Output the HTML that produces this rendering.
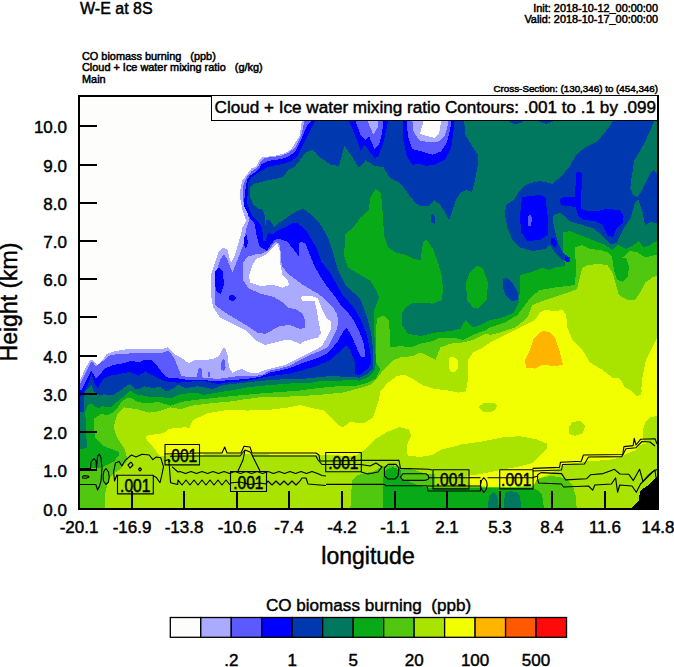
<!DOCTYPE html>
<html><head><meta charset="utf-8"><style>
html,body{margin:0;padding:0;background:#fff;width:674px;height:667px;overflow:hidden}
svg{display:block}
text{font-family:"Liberation Sans",Arial,sans-serif;fill:#000;stroke:#000;stroke-width:0.45px}
.sm{font-size:10.9px;stroke-width:0.5px}
.tk{font-size:17px}
.bl{font-size:17.7px;stroke:#000;stroke-width:0.5}
</style></head><body>
<svg width="674" height="667" viewBox="0 0 674 667">
<defs><clipPath id="pc"><rect x="79" y="96" width="579" height="413"/></clipPath></defs>

<text x="80" y="13.5" style="font-size:16px">W-E at 8S</text>
<text class="sm" x="658" y="11.5" text-anchor="end">Init: 2018-10-12_00:00:00</text>
<text class="sm" x="658" y="22.8" text-anchor="end">Valid: 2018-10-17_00:00:00</text>
<text class="sm" x="82" y="59.5">CO biomass burning&#160;&#160; (ppb)</text>
<text class="sm" x="82" y="71">Cloud + Ice water mixing ratio&#160;&#160; (g/kg)</text>
<text class="sm" x="82" y="82.5">Main</text>
<text class="sm" x="658" y="92" text-anchor="end" style="font-size:9.8px">Cross-Section: (130,346) to (454,346)</text>
<g clip-path="url(#pc)" shape-rendering="crispEdges">
<rect x="78" y="95" width="581" height="415" fill="#fdfdfb"/>
<polygon fill="#aaaaff" points="301.8,90 301.8,121 301,126.9 299.6,135.8 295.9,141.7 291.4,149.2 284,153.6 275.1,155.8 261.7,157.3 258.8,161 255.8,167 251.4,168.4 246.9,174.4 242.5,180.3 240.2,190 240.5,200 242.5,210 246,221 242.5,227.5 240,237.5 235,255 231,262.5 229,256 227.5,250 222.5,247.5 219,251 215,262.5 211,275 211,295 213,307 220,317.5 232.5,324 245,330 255,340 265,345 275,342.5 285,340 291,340 300,344 305,341 310,339.5 318,337.5 321,333 319.5,326 318,318 316,306.5 314.5,301.5 308,300.5 303,301.5 300.5,298 303,295.5 313,296.5 318,298.5 322,309.5 326.5,318.5 331,321.5 330.5,330.5 326.5,338 322,345.5 316,349.5 310,352.5 300,357.5 285,365 275,367.5 265,370 258,373 250,372.5 246,371 242.5,369 237.5,370 232.5,372.5 229,367.5 227.5,355 225,347.5 222.5,349 219,356 213,359 205.5,360 198,359.6 193.7,360.5 188.4,363.1 181.3,357.8 174.1,354.2 170.6,349.8 167.9,347.1 163.5,348.9 149.2,348.9 131.4,348.9 122.5,349.8 113.6,351.6 106.5,354.2 103,359.6 97.6,365 93,360 90.5,359.6 85.1,368.5 79.8,381 70,382 70,515 665,515 665,90"/>
<polygon fill="#5a5aff" points="304,90 304,121 303.3,126.9 301,135.8 295.9,146.2 289.9,152.1 281,155.8 264.7,158 261,161 258.8,165.5 255.8,168.4 251.4,171.4 246.9,177.3 243.9,183.3 242.5,190 243.5,202 247.5,212 249,220 246,230 244,242.5 237.5,260 232.5,272.5 227.5,260 224,254 220,260 216,272.5 215,295 215,305 225,312.5 237.5,320 247.5,326 257.5,332.5 265,334 272.5,330 280,326 290,325 300,329 305,327.5 305,320 302.5,314 297.5,310 287.5,307.5 281.7,301.7 273.5,296.8 260.5,293.5 249,288.7 243.3,280.5 243.3,262.5 247.4,256.8 255.6,254.4 262,253.6 267,251 272,246.2 275,242 279.2,243 280.9,252.7 281.7,265.8 288.2,274 294.8,278.9 301.3,283.8 309.4,288.7 317.6,293.5 324,298.4 332.5,306.5 337,314 338.5,321.5 337,329 332.5,338 328,347 319,351.4 310,355 300,360 290,365.5 280,368.5 270,370.5 262,375 250,376.5 238,376 228,377.5 218,379 203,377.5 198,376.5 188.4,377.4 181.3,375.6 177.7,366.7 174.1,357.8 168.8,350.7 163.5,352.5 149,353.4 131.4,353.4 117.2,354.2 110,355.1 104.7,359.6 99,364 95.8,366.7 92.2,361.4 90.5,363.1 85.1,373.8 80,384 70,385 70,515 665,515 665,90"/>
<polygon fill="#0000ff" points="311.4,90 311.4,121 306.2,126.9 303.3,134.3 300.3,141.7 295.9,150.6 289.9,155.8 282.5,158.8 267.7,161 261.7,164 258.8,169.2 254.3,172.9 249.9,175.9 246.9,180.3 245.4,190 243.7,204.7 248.9,216.5 254.8,224 256.3,234.3 259.3,246.2 266.7,250.7 274.1,240.3 278.6,238.8 287.5,241.8 293.4,249.2 297.9,255.1 299.3,258.1 298.6,244.7 300.8,241.8 305.3,243.2 308.2,250.7 311.2,258.1 314.3,265.8 320.9,277.2 327.4,287 334,295.2 340,304 343,308 349,314 353.5,320 359.5,332 364,344 365.5,357.4 361,357.4 356.4,347 350.4,333.4 346.7,328.2 343,332 337,342.4 328,353 319,357.4 310,360.4 300,364 290,368 280,370.5 270,372.5 260,377 246,379 218,381 198,380 188.4,380 177.7,378.3 167,377.4 161.7,372 156.3,364.9 151,359.6 145.7,359.6 138.5,362.3 131.4,360.5 124.3,363.1 113.6,364.9 104.7,368.5 99.4,375.6 95.8,379 91.4,370.3 88.7,375.6 81.6,389.8 70,391 70,515 665,515 665,90"/>
<polygon fill="#0038b0" points="315.2,90 315.2,121 310.7,129.9 306.2,138.8 301.8,147.7 297.3,156.6 291.4,161 282.5,164 267.7,167 261.7,170.7 255.8,174.4 251.4,177.3 248.4,181.8 247.6,190 247.4,204.7 251.9,215 257.8,221 262.3,228.4 263,240.3 265.2,241.8 268.2,232.9 272.6,234.3 278.6,229.9 286,227 292,223.2 296.4,222.5 302.3,227 306.8,231.4 311.2,238.8 315.7,246.2 318.6,253.6 321.6,262 324.1,265 330.7,274 337,285 342,294 349,302 355,309.5 361,320 367,335 370,350 371.4,362 368.4,368 359.4,375.4 355,374 355,362 350.4,350 346.7,345.4 340,351.4 329.5,360.4 319,365 310,368 300,371 290,373.5 280,375 270,376 260,378 246,381 228,382.5 218,384 203,381 198,381 177.7,382.7 170,382 163.5,381 156,377 149.2,373.8 145.7,371.2 138.5,375.6 129.6,372 120.7,373.8 110,375.6 103,379.2 97.6,388 94,382 91.4,373.8 88.7,382.7 84,392 80,396 70,396 70,515 665,515 665,90"/>
<polygon fill="#007860" points="70,412 84,412 84,400 85,392 88.4,388 91.5,385 93.6,391.2 98.8,395.4 104,394.3 112.3,395.4 119.5,391.2 124.7,387 129.9,384 136.2,389.2 140.3,388.5 143.9,386.3 152.8,388 160,387 167,391.6 174.1,388 177.7,384.5 184.8,388 198,386.3 213,389 223,385 233,384 246,382.5 270,380 290,379 310,378.4 319,377 332.5,376 347.5,377 359.4,377.6 367,374 373,368 373,350 371.4,335 367.7,320 364,308 359.4,297.5 350.4,290 345.5,285 338,270 336.4,265 335,259.6 332,249.2 329,240.3 324.6,231.4 320.1,224 314.2,218 309.7,213.6 305.3,209.9 302.3,209.1 296.4,211.4 290.4,215 284.5,219.5 278.6,222.5 274.1,227 269.7,219.5 266.7,219.5 265.2,227 264.5,215 262.3,209.1 257.8,208.4 253.4,204.7 250.4,197.3 250.4,186.9 253.4,184 267.7,180.3 282.5,177.3 288.4,170 294.4,167 300.3,159.5 306.2,152.1 312.2,149.9 315.2,152.1 319.6,157.3 325.5,161 330,164.7 339,165.9 344.5,145.8 352.3,157 359,168 365.6,160.3 374.5,165.9 383.4,167 390,178 399,182.5 403.4,187 409,195 415.5,203 420.5,206 428,206 434,200 440.5,205 446.7,215 449,220.5 451.7,212.5 456,200 460,193 466,190 472,192 475.5,177.5 478,165 478,155 473,147.5 465.5,135 464,120 464,90 665,90 665,515 70,515"/>
<polygon fill="#08aa18" points="70,449 80,449 87,448 86,430 85.3,411 88.4,404.7 91.5,403.7 95.7,406.8 98.8,408.4 101.9,405.2 106,407.3 111.2,406.8 117.5,401.6 122.7,397.5 129.9,390.2 136.2,394.3 142.4,395.4 149.2,396.7 160,397 170.6,398.5 177.7,395 188.4,393.1 198,393.1 203,395 218,392.5 233,390 246,387.5 270,385 290,383.5 310,383 319,381.4 332.5,381.4 347.5,380 359.4,380.6 368.4,377 374.4,371 376,362 374.4,335 374.4,309.5 379,297.5 376,290 370.5,281 360.5,275 348,267.5 344,255 345.5,234 353,227.5 360.5,217.5 369,210 370,198 375.5,189 381,193 383,217.5 384,235 388,247.5 395.5,252.5 405.5,255 414,259 420.5,260 423,242.5 426.7,239.5 433,248.8 438,262.5 441.7,275 443,290 441.7,300 433,303.7 423,302.5 413,302.5 405.5,307.5 402,313 401.7,325 408,333.7 420.5,336 435.5,332.5 450.5,331 460.5,328.7 465.5,320 473,327.5 480.5,325 490,320 502.5,317.5 514,312.5 518.7,302.5 520,290 520,275 530,272.5 542.5,267.5 548.8,270 555,267.5 565,266 563.8,257.5 562.5,247.5 562.5,232.5 570,231 580,235 592.5,240 605,245 612.5,250 617.5,245 626,249 633.8,245 638.8,241 643.8,247.5 650,245 658,240 665,240 665,515 70,515"/>
<polygon fill="#50c810" points="70,469.4 80,469.4 90.6,468.3 99,468.3 105,466 109.5,464 114.7,461 119,455 119,451.9 104.7,446.6 95,438 93.6,420.3 94.6,418.2 100.8,414.1 108.1,415.1 112.3,413 117.5,407.8 121.6,401.6 127.8,397.5 132,398.5 137.2,401.6 145.7,403.5 158.1,402 170.6,405.6 181.3,402 192,400.3 199,399.5 221.3,397.2 243.5,395 260,393.5 280,392 300,390.5 310,389 325,387.4 340,386 355,386 367,383 376,378.4 380.4,369.4 376,362 376,327.5 377.4,318.5 383.4,315.5 389,320 390.5,347.5 400.5,346 410.5,347.5 420.5,343.7 433,341 440.5,337.5 453,337.5 462.5,340 473,335 486,330 490,327.5 505,322.5 517.5,315 525,305 532,296 540,290 555,287.5 575,285 576,270 575,247.5 582.5,245 590,249 600,250 607.5,252.5 615,260 622.5,257.5 630,251 637.5,252.5 645,257.5 655,255 665,255 665,515 70,515"/>
<polygon fill="#a8e400" points="105,515 105.3,492.5 108.4,480 113.7,473.6 120,469.4 127.8,460 124.3,448.3 117.2,437.7 113.6,427 117.2,414.5 124.3,407.4 136.8,409.2 149.2,412.7 159.9,411 170.6,407.4 181.3,409.2 192,405.6 201.2,404.5 213,403 230,401.5 243.5,399.5 260,397.2 290,396.5 318,395 343,392.5 360,388 370,385 378,377 385,368 393,360 400.5,357.5 413,356 420.5,352.5 430.5,357.5 435.5,360 440.5,347.5 450.5,343.7 462.5,342.5 473,340 486,333.5 490,335 500,332.5 515,327.5 527.5,317.5 532.5,305 545,300 560,295 572,291 577,289 582.5,267.5 587.5,265 597.5,264 607.5,265 612.5,272.5 616,285 618.8,295 627.5,300 635,300 640,292.5 645,282.5 652.5,277.5 658,275 665,275 665,515"/>
<polygon fill="#f2ff00" points="145.6,437 149.3,434.9 159.7,434.1 165.6,431.9 168.6,428.9 174.5,428.2 180.4,428.2 183.4,426.7 189.3,428.2 190.8,423.7 193.8,419.3 201.2,416.3 207.2,413.4 216,411.9 225,410.4 230,409.6 248,410.6 260,409.5 268,410 288,407.5 300.5,405 315.5,409 323,410 330.5,417.5 338,425 343,427.5 349.5,422 363.7,423.4 373,417.5 378,403 380.4,391.4 387.5,383 397,376 404,374.7 413.6,379.5 423,385.4 435,389 446.9,390.2 458.7,392.6 466,391.4 468,379.5 468,360 473,352.5 483,347.5 490,342.5 505,335 520,327.5 535,320 540,312.5 545,310 555,311 562.5,310 566,315 567.5,327.5 572.5,340 582.5,350 590,362.5 602.5,370 612.5,377.5 620,378.7 625,387.5 630,390 637.5,395 641,392.5 642.5,377.5 646,360 652.5,347.5 656,340 658,337.5 665,337 665,442 650,442.5 640,445 636,450 627,453.6 618,458 609,460 590,461 575,463 565,465 560,468 550,474 540,478 533,486 500,487 470,486 467,476 475.6,474.7 482.3,473.6 503.1,469.5 519.7,466.4 532.2,463.2 536.3,459 540.5,455 547.1,448.7 546.7,443.5 536.3,439.3 519.7,436.2 503.1,437.3 482.3,441.4 461.5,444.5 440.8,449.7 432.5,455 420,457 407.7,455.5 406.5,446 411.2,435.3 408.9,429.4 399.4,427 387.5,431.8 375.6,438.9 363.7,450.7 356,455.5 340,455.5 300,455 238,454 170,455 161.2,456.4 156.7,452 152.3,446 147.8,441.5"/>
<polygon fill="#ffb400" points="542.5,331 550,332 555,337.5 560,352.5 563,365 555,366 542.5,365 535,368.7 526,367.5 525,360 530,350 533.7,338.7 540,332.5"/>
<polygon fill="#f2ff00" points="449,358 453,356.5 457.5,360 458,368 454,372.5 450,371 448.5,364"/>
<polygon fill="#a8e400" points="478,407 484,403 492,403.5 497,407 492,411.5 484,412.5"/>
<polygon fill="#a8e400" points="490,404 494,403 497.5,406 494,410.5 490,411"/>
<polygon fill="#a8e400" points="568.5,428 572,422 580,421 585,426 583,433 575,436 569,434"/>
<polygon fill="#a8e400" points="632,391 636,389 642,390 641,395 636,396"/>
<polygon fill="#a8e400" points="665,415 650,417 645,423 642.5,432 644,442 665,444"/>
<polygon fill="#50c810" points="350,515 352,480 356,476 364,473 372,472 383,466 392,465 401,468 415,470 425,473.5 434.5,474 434.5,487 470,487.5 533,487 537,479 550,476 560,477 568,480 573,486 576,497 577,515"/>
<polygon fill="#08aa18" points="383,515 383,478 386,470 393,467 401,470 401,478 410,482 420,486 434,488.5 470,488.5 500,488 532,488.5 538,490 542,495 545,515"/>
<polygon fill="#007860" points="487,515 489,496 493,492 497,495 500,515"/>
<polygon fill="#007860" points="503,515 505,493 510,491 516,492 520,496 522,515"/>
<polygon fill="#0000ff" points="349,90 349,121 352.3,129 357,140 361,151 364.5,144.7 369,151 374.5,158 378,157 383.4,142.5 386.5,129 388,121 388,90"/>
<polygon fill="#5a5aff" points="355.6,90 355.6,121 358,128 361,135.8 365.6,140.3 369,136 374.5,149.2 379,144.7 382.3,131.4 383.4,121 383.4,90"/>
<polygon fill="#aaaaff" points="367.8,90 367.8,121 370,127 373.4,134.7 377.9,127 377.9,121 377.9,90"/>
<polygon fill="#0000ff" points="402.5,90 402.5,121 403.4,140.3 406.8,155.8 412.4,164.7 419,163.6 425.7,165.9 434.6,164.7 445.7,159.2 451.3,147 453.5,131.4 454.6,121 454.6,90"/>
<polygon fill="#5a5aff" points="406.8,90 406.8,121 407.9,135.8 412.4,149.2 421.3,151.4 432.4,154.7 441.3,151.4 446.8,142.5 450.2,129 451.3,121 451.3,90"/>
<polygon fill="#aaaaff" points="412.4,90 412.4,121 413.5,131.4 419,140.3 430.2,142.5 439,141.4 444.6,135.8 448,124.7 448,121 448,90"/>
<polygon fill="#fdfdfb" points="423.5,90 423.5,121 420,133.6 425.7,135.8 434.6,138 439,133.6 441.3,121 441.3,90"/>
<polygon fill="#0038b0" points="508,90 508,121 515,124.5 522.5,122 530,90"/>
<polygon fill="#0038b0" points="537,90 537,121 546,124 554,121 556,90"/>
<polygon fill="#0038b0" points="613.8,90 613.8,120 605,132.5 597.5,141 585,147.5 576,155 570,166 562.5,175 552.5,183.8 540,181 527.5,183.8 520,190 513.8,200 506,205 505,215 507.5,227.5 512.5,240 520,247.5 532.5,251 545,249 550,245 555,252.5 562.5,260 570,262.5 570,257.5 563.8,253.8 558.8,245 556,235 552.5,220 553.8,215 560,212.5 570,221 575.6,223 593.4,228.3 602.3,235.5 611.2,244.4 616.6,242.6 623.7,228.3 630.8,217.6 635,202.5 638.3,199 642.4,211.3 645,224.8 650.5,222 656.6,223.4 665,223.4 665,90"/>
<polygon fill="#007860" points="665,90 655,120 645,142 637.5,155 634.3,160 631.6,177.5 630.2,188.3 633,195 637,197.1 641,192.4 645,184.3 650.5,173.5 653.2,170 656.6,173.5 665,174"/>
<polygon fill="#0000ff" points="520,215 522,197.5 530,196 540,195 545.5,198 547.5,215 547.5,235 540,240 527.5,241 521,232"/>
<polygon fill="#5a5aff" points="527.5,217 530,214 532,218 531,226 528,226"/>
<polygon fill="#0000ff" points="579.2,171.4 581.8,173 581.5,190 581,209 586.3,210.5 600,210.5 607.7,208.7 620,210.5 623.7,215.9 622.8,223 616.6,228.3 613,237.2 607.7,235.5 602.3,224.8 595.2,221.2 582.7,219.4 578.3,215.9 575.6,207 561.4,205.2 559.6,199.8 563.1,197.2 574.7,197.2 576.5,173"/>
<polygon fill="#0000ff" points="551,238 554,237.5 557.5,244 555,247.5 551.5,244"/>
<polygon fill="#0000ff" points="565,257.5 568,257 570,261 566,262.5"/>
<polygon fill="#0038b0" points="502.5,280 506,277.5 512,282 517.5,292 518,300 512,301 506,296 503,288"/>
<polygon fill="#0038b0" points="430.5,215 433,214 435.5,218 434.5,224 431.5,222"/>
<polygon fill="#08aa18" points="476.7,265.5 483,268.7 488,282.5 486.7,300 478,308.7 473,307.5 467,300 466,282.5 470,272"/>
<polygon fill="#08aa18" points="612,256 615,260 622.5,257.5 626,258 629,266 628,276 623,282 617,280 614,270"/>
<polygon fill="#fdfdfb" points="277.5,243.5 279.5,250 280,262.5 282.5,275 287.5,280 289,285 282.5,287.5 272.5,285 260,286 250,282.5 249,275 252.5,265 256,259 260,257.5 265,255 270,250 274,246"/>
<polygon fill="#0000ff" points="215,271 219,268 223,272 224,285 221,294 216,291 214.5,280"/>
<polygon fill="#0000ff" points="229,296 233,294.5 236,298 233,301 229.5,300"/>
<polygon fill="#0000ff" points="244,237 246.5,235 248,242 246,249 244,245"/>
<polygon fill="#5a5aff" points="197,377 198,370 200,367.5 202,370 202,377"/>
<polygon fill="#5a5aff" points="207.5,377 208.5,372 210,371.5 210.5,377"/>
<polygon fill="#5a5aff" points="221,370 221.5,362 223,359 225,361 225.6,368 224,371"/>
<polygon fill="#000000" points="631,515 631,508 639,500 640,491 647,486 654,480 658,475.5 665,475 665,515"/>
</g>
<g clip-path="url(#pc)" fill="none" stroke="#000" stroke-width="1.1" stroke-linejoin="round">
<polyline points="78,468.5 90.5,468.5 91,462 94,458.5 96,461 96.5,468.5 97.6,456 99.4,454.2 101,457.8 102,468.5 101,481 99.4,486.3 97.6,490 95.8,484.5 78,484.5"/>
<polyline points="82,477 84,475.6 88,476 89,477 86,478.3 82,478"/>
<polyline points="106,468.5 108.5,472 109.2,477 108.5,482 106,484.5 103.5,481 103,476 104,471 106,468.5"/>
<polyline points="117,474.7 114.5,481 113.6,472 115.4,463 119,461.4 122,466 124,462 126,459.6 131.4,455 136,457 142,454.2 149.2,455 152.8,459.6 156.3,457 160.8,457.8 163.5,466.7 161.7,475.6 160,482.7 156.3,477.4 152.8,475.6"/>
<polyline points="131,462 133,465 130,468 128,465 131,462"/>
<polyline points="140,467.5 141.5,469.4 140,471 138.5,469.4 140,467.5"/>
<polyline points="164.5,461 168.8,459.6 170.6,482.7 177.7,484.5 178,480 182,485 186,480 190,485 194,480 198,485 202,480 206,485 210,480 214,485 218,480 222,485 226,480 230,485"/>
<polyline points="172,466.7 178,472 180,471.5 185.5,473.5 191,471.5 196.5,473.5 202,471.5 207.5,473.5 213,471.5 218.5,473.5 224,471.5 229.5,473.5 235,471.5 240.5,473.5 246,471.5 251.5,473.5 257,471.5 262.5,473.5 268,471.5 273.5,473.5 279,471.5 284.5,473.5 290,471.5 295.5,473.5 301,471.5 306.5,473.5 312,471.5 317.5,473.5 322,475.5 326,476"/>
<polyline points="266,484 268,481 272,485 276,481 280,485 284,481 288,485 292,481 296,485 300,481 302,478 306,478 308,484 326,485.5"/>
<polyline points="199,453 222,453 224.7,447 227,453 241,453 244,446.2 250,447 252,453 316,453 319,455 320,461 326,461"/>
<polyline points="199,456 240,456 245,450 250,452 253,456 316,456 318,460 322,464.5 326,464.5"/>
<polyline points="245,450 243,460 238,471"/>
<polyline points="252,455 256,463 260,471"/>
<polyline points="361,460.4 399,460.4 400.4,468.4 428.5,469.2 432.5,470"/>
<polyline points="361,464.5 370,466 376,463 382,467 378,472 368,474 361,472"/>
<polyline points="388,464.4 396,464.4 399,468 398,476 395,479 388,479 384.4,476 384.4,468 388,464.4"/>
<polyline points="403,473.7 426,473.7 428.5,476 428.5,479 425,480.4 403,480.4 400.4,477 403,473.7"/>
<polyline points="326,484.4 355,484.4 384.4,484.4 386,485.7 427,485.7 428,491 480.5,491 480.5,480"/>
<polyline points="483.8,477.7 486.5,481 487.2,485 486,490 483.8,492.4 481.2,489 480.5,485 481.5,480.5 483.8,477.7"/>
<polyline points="468.5,477.7 480.5,477.7"/>
<polyline points="532.6,468.4 559.5,467.4 560.5,462.2 581.3,461.2 583.4,455 622.8,454.5 623.9,446.6 633.2,445.6 634.2,438.3 636,445 640.5,439.3 655,438.7 657,444"/>
<polyline points="532.6,471 561.5,470 562.5,464.5 584.4,464 588.5,457 621.8,456.6 626,448.7 636,447.7 642,441.5 650,442 655,446"/>
<polyline points="540.8,472.6 537.7,474.7 537.5,479 538.7,483 561.5,484 563.6,487 588.5,486 592.7,490.2 594.8,485 611.4,484 615.6,477.8 617.6,492.3 619.7,485 632,486 636.3,492.3 640.5,484 653,471.5 657,469.5"/>
<polyline points="540.8,472.6 561.5,473.6 565.7,479.9 586.5,478.8 590.6,474.7 603,473.6 610,471 614.4,469.3 620,474 628.8,474.3 633.3,480.6 639.6,469.3 643,481.5 647.7,476 654.9,469.8 656,477.8"/>
<polyline points="164.5,454 199,453"/>
<polyline points="170,456.2 199,456"/>
<polyline points="230,483 240,482 250,484.5 260,483 266,484"/>
<polyline points="326,461 361,460.4"/>
<polyline points="326,464.5 361,464.5"/>
<polyline points="428.5,477.8 468.5,477.8"/>
<polyline points="428,486 468.5,486 480.5,486"/>
<polyline points="487.5,477.8 532.6,477.8 537.7,476"/>
<rect x="117.5" y="475.2" width="35.8" height="18.7" fill="none" stroke="#000" stroke-width="1.1"/>
<text transform="translate(135.2,491.6) scale(0.88,1)" x="0" y="0" text-anchor="middle" class="bl">.001</text>
<rect x="165.0" y="444.5" width="34.5" height="20.4" fill="none" stroke="#000" stroke-width="1.1"/>
<text transform="translate(182.1,461.8) scale(0.88,1)" x="0" y="0" text-anchor="middle" class="bl">.001</text>
<rect x="230.5" y="471.5" width="36.0" height="20.0" fill="none" stroke="#000" stroke-width="1.1"/>
<text transform="translate(248.3,488.6) scale(0.88,1)" x="0" y="0" text-anchor="middle" class="bl">.001</text>
<rect x="325.7" y="452.5" width="35.6" height="19.3" fill="none" stroke="#000" stroke-width="1.1"/>
<text transform="translate(343.3,469.2) scale(0.88,1)" x="0" y="0" text-anchor="middle" class="bl">.001</text>
<rect x="433.0" y="469.7" width="36.0" height="19.2" fill="none" stroke="#000" stroke-width="1.1"/>
<text transform="translate(450.8,486.4) scale(0.88,1)" x="0" y="0" text-anchor="middle" class="bl">.001</text>
<rect x="499.7" y="469.7" width="33.4" height="19.2" fill="none" stroke="#000" stroke-width="1.1"/>
<text transform="translate(516.2,486.4) scale(0.88,1)" x="0" y="0" text-anchor="middle" class="bl">.001</text>
</g>
<rect x="79" y="96" width="579" height="413" fill="none" stroke="#000" stroke-width="2"/>
<line x1="79" x2="97" y1="509.00" y2="509.00" stroke="#000" stroke-width="2"/>
<text class="tk" x="67" y="515.50" text-anchor="end">0.0</text>
<line x1="79" x2="97" y1="470.00" y2="470.00" stroke="#000" stroke-width="2"/>
<text class="tk" x="67" y="476.50" text-anchor="end">1.0</text>
<line x1="79" x2="97" y1="432.00" y2="432.00" stroke="#000" stroke-width="2"/>
<text class="tk" x="67" y="438.50" text-anchor="end">2.0</text>
<line x1="79" x2="97" y1="394.00" y2="394.00" stroke="#000" stroke-width="2"/>
<text class="tk" x="67" y="400.50" text-anchor="end">3.0</text>
<line x1="79" x2="97" y1="356.00" y2="356.00" stroke="#000" stroke-width="2"/>
<text class="tk" x="67" y="362.50" text-anchor="end">4.0</text>
<line x1="79" x2="97" y1="317.00" y2="317.00" stroke="#000" stroke-width="2"/>
<text class="tk" x="67" y="323.50" text-anchor="end">5.0</text>
<line x1="79" x2="97" y1="279.00" y2="279.00" stroke="#000" stroke-width="2"/>
<text class="tk" x="67" y="285.50" text-anchor="end">6.0</text>
<line x1="79" x2="97" y1="241.00" y2="241.00" stroke="#000" stroke-width="2"/>
<text class="tk" x="67" y="247.50" text-anchor="end">7.0</text>
<line x1="79" x2="97" y1="203.00" y2="203.00" stroke="#000" stroke-width="2"/>
<text class="tk" x="67" y="209.50" text-anchor="end">8.0</text>
<line x1="79" x2="97" y1="165.00" y2="165.00" stroke="#000" stroke-width="2"/>
<text class="tk" x="67" y="171.50" text-anchor="end">9.0</text>
<line x1="79" x2="97" y1="126.00" y2="126.00" stroke="#000" stroke-width="2"/>
<text class="tk" x="67" y="132.50" text-anchor="end">10.0</text>
<line x1="79.00" x2="79.00" y1="491" y2="509" stroke="#000" stroke-width="2"/>
<text class="tk" x="79.00" y="533" text-anchor="middle">-20.1</text>
<line x1="132.00" x2="132.00" y1="491" y2="509" stroke="#000" stroke-width="2"/>
<text class="tk" x="132.00" y="533" text-anchor="middle">-16.9</text>
<line x1="184.00" x2="184.00" y1="491" y2="509" stroke="#000" stroke-width="2"/>
<text class="tk" x="184.00" y="533" text-anchor="middle">-13.8</text>
<line x1="237.00" x2="237.00" y1="491" y2="509" stroke="#000" stroke-width="2"/>
<text class="tk" x="237.00" y="533" text-anchor="middle">-10.6</text>
<line x1="289.00" x2="289.00" y1="491" y2="509" stroke="#000" stroke-width="2"/>
<text class="tk" x="289.00" y="533" text-anchor="middle">-7.4</text>
<line x1="342.00" x2="342.00" y1="491" y2="509" stroke="#000" stroke-width="2"/>
<text class="tk" x="342.00" y="533" text-anchor="middle">-4.2</text>
<line x1="395.00" x2="395.00" y1="491" y2="509" stroke="#000" stroke-width="2"/>
<text class="tk" x="395.00" y="533" text-anchor="middle">-1.1</text>
<line x1="447.00" x2="447.00" y1="491" y2="509" stroke="#000" stroke-width="2"/>
<text class="tk" x="447.00" y="533" text-anchor="middle">2.1</text>
<line x1="500.00" x2="500.00" y1="491" y2="509" stroke="#000" stroke-width="2"/>
<text class="tk" x="500.00" y="533" text-anchor="middle">5.3</text>
<line x1="552.00" x2="552.00" y1="491" y2="509" stroke="#000" stroke-width="2"/>
<text class="tk" x="552.00" y="533" text-anchor="middle">8.4</text>
<line x1="605.00" x2="605.00" y1="491" y2="509" stroke="#000" stroke-width="2"/>
<text class="tk" x="605.00" y="533" text-anchor="middle">11.6</text>
<line x1="658.00" x2="658.00" y1="491" y2="509" stroke="#000" stroke-width="2"/>
<text class="tk" x="658.00" y="533" text-anchor="middle">14.8</text>
<text x="368" y="563.5" text-anchor="middle" style="font-size:23px">longitude</text>
<text x="0" y="0" text-anchor="middle" style="font-size:23px" transform="translate(17,302) rotate(-90)">Height (km)</text>
<rect x="211.5" y="95.5" width="446" height="25" fill="#fff" stroke="#000" stroke-width="1"/>
<text x="214.6" y="112.5" style="font-size:17.1px">Cloud + Ice water mixing ratio Contours: .001 to .1 by .099</text>
<rect x="170.30" y="617.5" width="30.48" height="19.8" fill="#fdfdfb" stroke="#000" stroke-width="1.3"/>
<rect x="200.78" y="617.5" width="30.48" height="19.8" fill="#aaaaff" stroke="#000" stroke-width="1.3"/>
<rect x="231.26" y="617.5" width="30.48" height="19.8" fill="#5a5aff" stroke="#000" stroke-width="1.3"/>
<rect x="261.74" y="617.5" width="30.48" height="19.8" fill="#0000ff" stroke="#000" stroke-width="1.3"/>
<rect x="292.22" y="617.5" width="30.48" height="19.8" fill="#0038b0" stroke="#000" stroke-width="1.3"/>
<rect x="322.70" y="617.5" width="30.48" height="19.8" fill="#007860" stroke="#000" stroke-width="1.3"/>
<rect x="353.18" y="617.5" width="30.48" height="19.8" fill="#08aa18" stroke="#000" stroke-width="1.3"/>
<rect x="383.66" y="617.5" width="30.48" height="19.8" fill="#50c810" stroke="#000" stroke-width="1.3"/>
<rect x="414.14" y="617.5" width="30.48" height="19.8" fill="#a8e400" stroke="#000" stroke-width="1.3"/>
<rect x="444.62" y="617.5" width="30.48" height="19.8" fill="#f2ff00" stroke="#000" stroke-width="1.3"/>
<rect x="475.10" y="617.5" width="30.48" height="19.8" fill="#ffb400" stroke="#000" stroke-width="1.3"/>
<rect x="505.58" y="617.5" width="30.48" height="19.8" fill="#ff5a00" stroke="#000" stroke-width="1.3"/>
<rect x="536.06" y="617.5" width="30.48" height="19.8" fill="#ff0a0a" stroke="#000" stroke-width="1.3"/>
<text x="368.5" y="610.5" text-anchor="middle" style="font-size:17.1px">CO biomass burning&#160;&#160;(ppb)</text>
<text class="tk" x="231.26" y="665.5" text-anchor="middle">.2</text>
<text class="tk" x="292.22" y="665.5" text-anchor="middle">1</text>
<text class="tk" x="353.18" y="665.5" text-anchor="middle">5</text>
<text class="tk" x="414.14" y="665.5" text-anchor="middle">20</text>
<text class="tk" x="475.10" y="665.5" text-anchor="middle">100</text>
<text class="tk" x="536.06" y="665.5" text-anchor="middle">500</text>
</svg></body></html>
